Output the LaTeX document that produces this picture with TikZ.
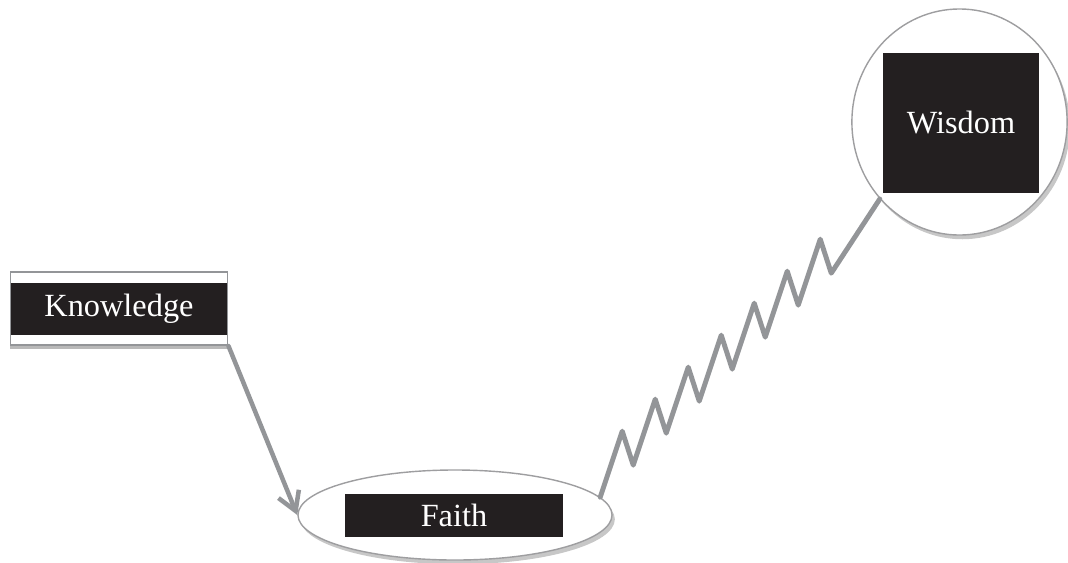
\documentclass[tikz,border=0pt]{standalone}
\usepackage{fontspec}
\setmainfont{Liberation Serif}
\usetikzlibrary{shapes.geometric, arrows.meta, shadows}
\definecolor{inkblack}{RGB}{35,31,32}
\definecolor{wiregray}{RGB}{147,149,152}
\definecolor{rimgray}{RGB}{158,158,160}
\tikzset{
  bubble/.style={ellipse, draw=rimgray, fill=white, line width=1pt,
    drop shadow={shadow xshift=2pt, shadow yshift=-3pt, opacity=0.22, fill=black}},
  tag/.style={rectangle, fill=inkblack, text=white, inner sep=0pt,
    font=\fontsize{23}{28}\selectfont},
  knowbox/.style={rectangle, draw=wiregray, fill=white, line width=1.2pt,
    minimum width=5.43cm, minimum height=1.83cm, inner sep=0pt,
    text=white, font=\fontsize{23}{28}\selectfont,
    drop shadow={shadow xshift=0pt, shadow yshift=-2.5pt, opacity=0.55, fill=gray},
    path picture={\fill[inkblack] ([yshift=-0.27cm]path picture bounding box.north west)
      rectangle ([yshift=0.25cm]path picture bounding box.south east);}},
  wire/.style={color=wiregray, line width=3.2pt, line cap=round, line join=round}
}
\begin{document}
\begin{tikzpicture}[x=0.025cm, y=-0.025cm]
  \useasboundingbox (0,0) rectangle (1068,562);

  \node[knowbox] (knowledge) at (119,308.5) {Knowledge};

  \node[bubble, minimum width=7.85cm, minimum height=2.25cm] (faith) at (455,515) {};
  \node[tag, minimum width=5.45cm, minimum height=1.08cm] (faithtag) at (454,515.5) {Faith};

  \node[bubble, minimum width=5.38cm, minimum height=5.65cm] (wisdom) at (959.5,122) {};
  \node[tag, minimum width=3.9cm, minimum height=3.5cm] (wisdomtag) at (961,123) {Wisdom};

  \draw[wire, -{Straight Barb[length=4.6mm, width=5.5mm]}] (knowledge.south east) -- (faith.west);
  \draw[wire, line width=3.5pt] (faith.7) \foreach \k in {1,...,7}{ -- ++(22,-66) -- ++(11,34) } -- (wisdom.224);

\end{tikzpicture}
\end{document}
